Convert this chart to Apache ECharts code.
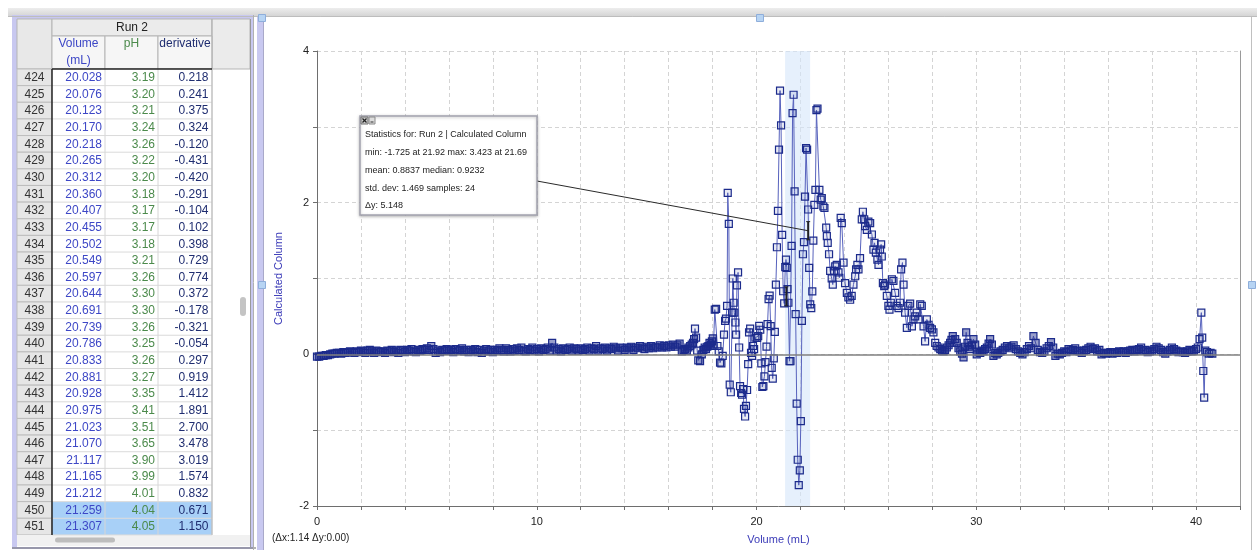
<!DOCTYPE html>
<html><head><meta charset="utf-8">
<script src="https://cdn.jsdelivr.net/npm/echarts@6/dist/echarts.min.js"></script>
<style>html,body{margin:0;padding:0;background:#fff;}#c{width:1257px;height:550px;}</style>
</head><body><div id="c"></div>
<script>
// ---------- table data (Run 2) ----------
const tableRows = [424,425,426,427,428,429,430,431,432,433,434,435,436,437,438,439,440,441,442,443,444,445,446,447,448,449,450,451];
const tableVolume = ['20.028','20.076','20.123','20.170','20.218','20.265','20.312','20.360','20.407','20.455','20.502','20.549','20.597','20.644','20.691','20.739','20.786','20.833','20.881','20.928','20.975','21.023','21.070','21.117','21.165','21.212','21.259','21.307'];
const tablePH = ['3.19','3.20','3.21','3.24','3.26','3.22','3.20','3.18','3.17','3.17','3.18','3.21','3.26','3.30','3.30','3.26','3.25','3.26','3.27','3.35','3.41','3.51','3.65','3.90','3.99','4.01','4.04','4.05'];
const tableDeriv = ['0.218','0.241','0.375','0.324','-0.120','-0.431','-0.420','-0.291','-0.104','0.102','0.398','0.729','0.774','0.372','-0.178','-0.321','-0.054','0.297','0.919','1.412','1.891','2.700','3.478','3.019','1.574','0.832','0.671','1.150'];
const selectedRows = [450,451];

// ---------- graph data: Volume (mL) vs Calculated Column ----------
const flatVolume = [0.0,0.1,0.2,0.3,0.4,0.5,0.6,0.7,0.8,0.9,1.0,1.1,1.2,1.3,1.4,1.5,1.6,1.7,1.8,1.9,2.0,2.1,2.2,2.3,2.4,2.5,2.6,2.7,2.8,2.9,3.0,3.1,3.2,3.3,3.4,3.5,3.6,3.7,3.8,3.9,4.0,4.1,4.2,4.3,4.4,4.5,4.6,4.7,4.8,4.9,5.0,5.1,5.2,5.3,5.4,5.5,5.6,5.7,5.8,5.9,6.0,6.1,6.2,6.3,6.4,6.5,6.6,6.7,6.8,6.9,7.0,7.1,7.2,7.3,7.4,7.5,7.6,7.7,7.8,7.9,8.0,8.1,8.2,8.3,8.4,8.5,8.6,8.7,8.8,8.9,9.0,9.1,9.2,9.3,9.4,9.5,9.6,9.7,9.8,9.9,10.0,10.1,10.2,10.3,10.4,10.5,10.6,10.7,10.8,10.9,11.0,11.1,11.2,11.3,11.4,11.5,11.6,11.7,11.8,11.9,12.0,12.1,12.2,12.3,12.4,12.5,12.6,12.7,12.8,12.9,13.0,13.1,13.2,13.3,13.4,13.5,13.6,13.7,13.8,13.9,14.0,14.1,14.2,14.3,14.4,14.5,14.6,14.7,14.8,14.9,15.0,15.1,15.2,15.3,15.4,15.5,15.6,15.7,15.8,15.9,16.0,16.1,16.2,16.3,16.4,16.5];
const flatCalc = [-0.03,-0.03,-0.02,-0.02,-0.01,-0.01,0.00,0.01,0.01,0.02,
0.02,0.01,0.03,0.02,0.03,0.04,0.03,0.02,0.04,0.03,
0.05,0.04,0.02,0.05,0.06,0.04,0.02,0.05,0.04,0.03,
0.04,0.02,0.05,0.04,0.06,0.03,0.05,0.02,0.06,0.05,
0.03,0.06,0.05,0.07,0.04,0.03,0.06,0.05,0.07,0.06,
0.08,0.06,0.11,0.07,0.02,0.05,0.03,0.06,0.05,0.07,
0.05,0.06,0.03,0.07,0.05,0.06,0.08,0.04,0.06,0.03,
0.06,0.05,0.07,0.03,0.06,0.02,0.05,0.07,0.04,0.06,
0.03,0.06,0.05,0.08,0.06,0.04,0.08,0.06,0.04,0.07,
0.05,0.08,0.06,0.09,0.05,0.04,0.07,0.06,0.09,0.05,
0.07,0.04,0.08,0.06,0.07,0.09,0.05,0.15,0.09,0.05,
0.07,0.04,0.08,0.06,0.07,0.09,0.05,0.08,0.07,0.05,
0.08,0.06,0.07,0.09,0.05,0.08,0.07,0.11,0.05,0.08,
0.07,0.09,0.05,0.08,0.07,0.10,0.08,0.05,0.09,0.08,
0.06,0.09,0.08,0.10,0.06,0.09,0.08,0.11,0.09,0.07,
0.10,0.08,0.11,0.08,0.10,0.09,0.12,0.09,0.11,0.09,
0.12,0.10,0.13,0.10,0.12,0.14];
const riseVolume = [16.60,16.68,16.75,16.83,16.90,16.98,17.05,17.11,17.16,17.20,17.25,17.30,17.35,17.43,17.51,17.58,17.64,17.70,17.76,17.81,17.86,17.92,17.97,18.01,18.04,18.10,18.16,18.22,18.28,18.34,18.40,18.46,18.52,18.57,18.61,18.66,18.69,18.74,18.78,18.83,18.89,18.92,18.96,18.99,19.04,19.07,19.11,19.16,19.21,19.25,19.30,19.34,19.39,19.43,19.48,19.52,19.57,19.62,19.66,19.71,19.75,19.80,19.84,19.89,19.95];
const riseCalc = [0.04,0.06,0.07,0.05,0.09,0.11,0.13,0.15,0.20,0.34,0.22,0.05,-0.08,-0.09,0.00,0.06,0.09,0.07,0.10,0.11,0.15,0.13,0.17,0.21,0.11,0.59,0.60,0.11,0.04,-0.11,-0.12,-0.02,0.26,0.44,0.47,0.64,2.13,1.72,-0.40,-0.50,0.55,1.00,0.68,0.55,0.42,0.26,0.91,1.08,0.09,-0.42,-0.51,-0.53,-0.46,-0.72,-0.82,-0.68,-0.47,-0.13,0.29,0.34,0.02,-0.02,0.11,0.07,0.22];
const peakVolume = [21.34,21.375,21.41,21.45,21.50,21.545,21.595,21.64,21.686,21.733,21.78,21.828,21.875,21.922,21.97,22.017,22.064,22.112,22.159,22.206,22.254,22.301,22.348,22.396,22.443,22.49,22.538,22.585,22.632,22.68,22.727,22.774,22.86,22.92,22.97,23.04,23.09,23.17,23.20,23.24,23.30,23.35,23.42,23.47,23.53,23.58,23.65,23.73,23.77,23.83,23.88,23.96,24.03,24.11,24.18,24.26,24.33,24.41,24.49,24.53,24.59,24.64,24.71,24.79,24.84,24.90,24.94,25.02,25.09,25.17,25.25,25.32,25.37,25.43,25.50,25.55,25.62,25.67,25.70,25.75,25.81,25.85,25.93,26.00,26.05,26.11,26.16,26.23,26.31,26.38,26.46,26.53,26.58,26.64,26.69,26.76,26.84,26.91,26.99,27.07,27.14,27.22,27.29,27.37,27.45,27.52,27.60,27.67,27.75,27.83,27.90,27.98,28.05,28.13,28.20,28.28];
const peakCalc = [1.25,1.14,0.86,0.68,-0.09,-0.09,1.43,3.18,3.423,2.15,0.53,-0.65,-1.39,-1.725,-1.53,-0.88,0.44,1.32,1.48,2.08,2.72,2.70,1.91,1.14,0.66,0.61,0.83,1.50,1.97,2.17,3.22,3.24,2.17,2.04,2.06,1.95,1.93,1.67,1.56,1.47,1.32,1.10,1.00,0.92,1.10,1.16,1.18,1.08,1.01,1.80,1.73,1.21,0.94,0.81,0.75,0.72,0.77,0.92,1.03,1.12,1.18,1.12,1.27,1.78,1.88,1.78,1.69,1.64,1.75,1.73,1.58,1.38,1.47,1.34,1.25,1.18,1.38,1.45,1.29,0.94,0.90,0.92,0.77,0.64,0.59,0.68,0.99,0.97,0.81,0.64,0.61,0.68,1.12,1.21,0.92,0.55,0.35,0.64,0.67,0.37,0.46,0.50,0.55,0.46,0.66,0.64,0.37,0.17,0.46,0.39,0.35,0.33,0.29,0.15,0.11,0.09];
const tailVolume = [28.36,28.44,28.51,28.58,28.66,28.74,28.81,28.87,28.93,29.04,29.11,29.19,29.27,29.35,29.42,29.48,29.54,29.60,29.66,29.72,29.80,29.87,29.95,30.02,30.10,30.18,30.26,30.33,30.40,30.48,30.56,30.63,30.71,30.78,30.86,30.93,
31.0,31.1,31.2,31.3,31.4,31.5,31.6,31.7,31.8,31.9,32.0,32.1,32.2,32.3,32.4,32.5,32.6,32.7,32.8,32.9,33.0,33.1,33.2,33.3,33.4,33.5,33.6,33.7,33.8,33.9,34.0,34.1,34.2,34.3,34.4,34.5,34.6,34.7,34.8,34.9,35.0,35.1,35.2,35.3,35.4,35.5,35.6,35.7,35.8,35.9,36.0,36.1,36.2,36.3,36.4,36.5,36.6,36.7,36.8,36.9,37.0,37.1,37.2,37.3,37.4,37.5,37.6,37.7,37.8,37.9,38.0,38.1,38.2,38.3,38.4,38.5,38.6,38.7,38.8,38.9,39.0,39.1,39.2,39.3,39.4,39.5,39.6,39.7,39.8,39.9,40.0,
40.08,40.16,40.24,40.28,40.33,40.37,40.42,40.50,40.58,40.66,40.74];
const tailCalc = [0.07,0.05,0.04,0.06,0.09,0.12,0.15,0.19,0.24,0.20,0.15,0.08,0.04,0.01,-0.04,0.10,0.29,0.15,0.10,0.07,0.12,0.20,0.13,0.00,0.03,0.02,0.05,0.04,0.07,0.09,0.14,0.20,0.13,-0.02,0.02,0.00,
0.02,0.04,0.06,0.09,0.11,0.08,0.10,0.12,0.07,0.04,
0.02,0.00,0.03,0.07,0.11,0.08,0.24,0.15,0.06,0.03,
0.02,0.04,0.08,0.11,0.16,0.09,-0.02,0.01,0.00,0.02,
0.04,0.03,0.07,0.05,0.06,0.08,0.05,0.04,0.02,0.05,
0.06,0.08,0.10,0.07,0.08,0.04,0.06,0.00,0.02,0.01,
0.02,0.03,0.01,0.03,0.02,0.04,0.03,0.04,0.02,0.04,
0.05,0.06,0.04,0.06,0.07,0.09,0.05,0.06,0.03,0.04,
0.05,0.07,0.10,0.08,0.06,0.03,0.01,0.04,0.06,0.09,
0.07,0.05,0.03,0.04,0.03,0.02,0.04,0.06,0.04,0.05,
0.07,
0.09,0.20,0.55,0.22,-0.22,-0.57,0.05,0.03,0.01,0.02,0.01];

// selection band and annotation anchors (data units)
const selectionRange = [21.30, 22.44];
const bracketA = {x: 22.35, y: [1.51, 1.75]};
const bracketB = {x: 21.36, y: [0.64, 0.89]};
const xTickLabels = ['0','10','20','30','40'];
const yTickLabels = ['-2','0','2','4'];
const statsLines = ['Statistics for: Run 2 | Calculated Column','min: -1.725 at 21.92 max: 3.423 at 21.69','mean: 0.8837 median: 0.9232','std. dev: 1.469 samples: 24','\u0394y: 5.148'];
const deltaText = '(\u0394x:1.14 \u0394y:0.00)';

// ---------- build ----------
const FONT = '"Liberation Sans", Arial, Helvetica, sans-serif';
const HOLLOW = {color: 'rgba(40,55,150,0.10)'};
const DENSE = {color: 'rgba(28,43,140,0.45)'};
function zip(a, b, style) { return a.map((v, i) => ({value: [v, b[i]], itemStyle: typeof style === 'function' ? style(v) : style})); }
const seriesData = [].concat(
  zip(flatVolume, flatCalc, DENSE),
  zip(riseVolume, riseCalc, v => (v < 17.2 || (v > 17.4 && v < 18.05)) ? DENSE : HOLLOW),
  zip(tableVolume.map(Number), tableDeriv.map(Number), HOLLOW),
  zip(peakVolume, peakCalc, HOLLOW),
  zip(tailVolume, tailCalc, v => v <= 40.05 ? DENSE : HOLLOW)
);

const chart = echarts.init(document.getElementById('c'), null, {renderer: 'canvas', width: 1257, height: 550});
const option = {
  animation: false,
  backgroundColor: '#ffffff',
  textStyle: {fontFamily: FONT},
  grid: {left: 317, right: 17, top: 51, bottom: 42, containLabel: false},
  xAxis: {
    type: 'value', min: 0, max: 42, interval: 2,
    name: 'Volume (mL)', nameLocation: 'middle', nameGap: 28,
    nameTextStyle: {color: '#3b3bb8', fontSize: 11, fontFamily: FONT},
    axisLine: {onZero: false, lineStyle: {color: '#6e6e6e'}},
    axisTick: {length: 4, lineStyle: {color: '#6e6e6e'}},
    axisLabel: {color: '#222', fontSize: 11, margin: 10, fontFamily: FONT,
      formatter: v => xTickLabels.includes(String(v)) ? String(v) : ''},
    splitLine: {show: true, lineStyle: {color: '#d4d4d4', type: [4, 3]}}
  },
  yAxis: [{
    type: 'value', min: -2, max: 4, interval: 1,
    name: 'Calculated Column', nameLocation: 'middle', nameGap: 33,
    nameTextStyle: {color: '#3b3bb8', fontSize: 11, fontFamily: FONT},
    axisLine: {show: true, lineStyle: {color: '#6e6e6e'}},
    axisTick: {show: true, length: 4, lineStyle: {color: '#6e6e6e'}},
    axisLabel: {color: '#222', fontSize: 11, margin: 8, fontFamily: FONT,
      formatter: v => yTickLabels.includes(String(v)) ? String(v) : ''},
    splitLine: {show: true, lineStyle: {color: '#d4d4d4', type: [4, 3]}}
  }, {
    type: 'value', position: 'right', min: -2, max: 4, interval: 1,
    axisLine: {show: true, lineStyle: {color: '#9a9a9a'}},
    axisTick: {show: false}, axisLabel: {show: false}, splitLine: {show: false}
  }],
  series: [{
    type: 'line', z: 1, data: [], silent: true,
    markArea: {silent: true, itemStyle: {color: 'rgba(214,230,250,0.6)'},
      data: [[{xAxis: selectionRange[0]}, {xAxis: selectionRange[1]}]]},
    markLine: {silent: true, symbol: 'none', label: {show: false},
      lineStyle: {color: '#808080', width: 1.5, type: 'solid'}, data: [{yAxis: 0}]}
  }, {
    type: 'line', z: 3, data: seriesData, symbol: 'rect', symbolSize: 7,
    showAllSymbol: true, silent: true,
    lineStyle: {color: '#5762bd', width: 1},
    itemStyle: {borderColor: '#1c2b8c', borderWidth: 1.2}
  }]
};
chart.setOption(option);

// ---------- graphic: window chrome, table, stats box ----------
const G = [];
function rect(x, y, w, h, fill, stroke, extra) { G.push(Object.assign({type: 'rect', shape: {x, y, width: w, height: h}, style: {fill, stroke: stroke || null, lineWidth: 1}, z: 10}, extra || {})); }
function line(x1, y1, x2, y2, stroke, lw, z) { G.push({type: 'line', shape: {x1, y1, x2, y2}, style: {stroke, lineWidth: lw || 1}, z: z || 11}); }
function text(t, x, y, fill, size, align, z) { G.push({type: 'text', x, y, style: {text: t, fill, font: size + 'px ' + FONT, textAlign: align || 'left', textVerticalAlign: 'middle', align: align || 'left', verticalAlign: 'middle'}, z: z || 12}); }

// top bar
G.push({type: 'rect', shape: {x: 8, y: 8, width: 1249, height: 9}, style: {fill: new echarts.graphic.LinearGradient(0, 0, 0, 1, [{offset: 0, color: '#ededed'}, {offset: 1, color: '#d2d2d2'}])}, z: 10});
line(8, 16.5, 1257, 16.5, '#bdbdbd', 1);

// table panel
rect(12, 15, 241, 534, '#c8c8f0');
rect(17, 19, 233, 528, '#ffffff');
const colX = [17, 52, 105, 158, 212, 250];
const rowTop = 69, rowH = 16.64;
rect(17, 19, 35, 50, '#e8e8e8', '#b5b5b5');
rect(52, 19, 160, 17, '#ebebeb', '#b5b5b5');
rect(212, 19, 38, 50, '#ebebeb', '#b5b5b5');
for (let c = 1; c <= 3; c++) rect(colX[c], 36, colX[c + 1] - colX[c], 33, '#f6f6f6', '#b5b5b5');
text('Run 2', 132, 27.5, '#222', 12, 'center');
text('Volume', 78.5, 44, '#3d47c6', 12, 'center');
text('(mL)', 78.5, 60.5, '#3d47c6', 12, 'center');
text('pH', 131.5, 44, '#4b8a4b', 12, 'center');
text('derivative', 185, 44, '#1f2d70', 12, 'center');
tableRows.forEach((r, i) => {
  const y = rowTop + i * rowH;
  rect(17, y, 35, rowH, '#e6e6e6', '#bdbdbd');
  const sel = selectedRows.includes(r);
  rect(52, y, 160, rowH, sel ? '#a8d0f7' : '#ffffff', null);
  for (let c = 1; c <= 3; c++) line(colX[c + 1], y, colX[c + 1], y + rowH, '#d6d6d6', 1, 11);
  line(52, y + rowH, 212, y + rowH, '#dadada', 1, 11);
  const cy = y + rowH / 2 + 0.5;
  text(String(r), 34.5, cy, '#333', 12, 'center');
  text(tableVolume[i], 102, cy, '#3d47c6', 12, 'right');
  text(tablePH[i], 155, cy, '#4b8a4b', 12, 'right');
  text(tableDeriv[i], 208.5, cy, '#1f2d70', 12, 'right');
});
const tableBottom = rowTop + tableRows.length * rowH;
line(52, rowTop, 212, rowTop, '#222', 1.5, 13);
line(52, rowTop, 52, tableBottom, '#222', 1.5, 13);
line(212, 19, 212, tableBottom, '#b5b5b5', 1, 11);
line(250.5, 19, 250.5, 547, '#9a9a9a', 1, 11);
rect(240, 297, 6, 19, '#c4c4c4', null, {shape: {x: 240, y: 297, width: 6, height: 19, r: 3}});
rect(17, tableBottom, 233, 11, '#f1f1f1', null);
rect(55, tableBottom + 2.5, 60, 5, '#bdbdbd', null, {shape: {x: 55, y: tableBottom + 2.5, width: 60, height: 5, r: 2.5}});
line(12, 548, 256, 548, '#666', 1, 11);
line(253.5, 15, 253.5, 550, '#b0b0b0', 1, 11);

// graph panel chrome
rect(257, 17, 6, 533, '#c9c9f0');
line(263.5, 17, 263.5, 550, '#a9a9c9', 1, 11);
line(1251.5, 17, 1251.5, 550, '#c0c0c0', 1, 11);
[[262, 18], [760, 18], [262, 285], [1252, 285]].forEach(p => rect(p[0] - 3.5, p[1] - 3.5, 7, 7, '#b7d4f3', '#8eaedb', {z: 14}));

// delta readout
text(deltaText, 272, 538, '#222', 10, 'left');

// stats box
G.push({type: 'rect', shape: {x: 360, y: 116, width: 177, height: 99}, style: {fill: '#ffffff', stroke: '#a2a2ae', lineWidth: 1.5, shadowBlur: 3, shadowColor: 'rgba(0,0,0,0.25)', shadowOffsetY: 1}, z: 20});
rect(361, 117, 7, 7, '#cfcfcf', '#6f6f6f', {z: 21});
line(362.5, 118.5, 366.5, 122.5, '#222', 1.2, 22);
line(366.5, 118.5, 362.5, 122.5, '#222', 1.2, 22);
rect(369, 117, 6, 7, '#dcdcdc', '#8a8a8a', {z: 21});
line(370.5, 122, 373.5, 122, '#333', 1, 22);
const statY = [135, 152.5, 170.5, 188.5, 206];
statsLines.forEach((s, i) => text(s, 365, statY[i], '#222', 9, 'left', 22));

// connector + brackets (anchored to data coordinates)
const pA0 = chart.convertToPixel({xAxisIndex: 0, yAxisIndex: 0}, [bracketA.x, bracketA.y[0]]);
const pA1 = chart.convertToPixel({xAxisIndex: 0, yAxisIndex: 0}, [bracketA.x, bracketA.y[1]]);
const pB0 = chart.convertToPixel({xAxisIndex: 0, yAxisIndex: 0}, [bracketB.x, bracketB.y[0]]);
const pB1 = chart.convertToPixel({xAxisIndex: 0, yAxisIndex: 0}, [bracketB.x, bracketB.y[1]]);
line(537, 181, pA0[0], (pA0[1] + pA1[1]) / 2, '#2a2a2a', 1, 19);
[[pA0, pA1], [pB0, pB1]].forEach(([a, b]) => {
  line(a[0], a[1], b[0], b[1], '#222', 2, 19);
  line(a[0] - 2, a[1], a[0] + 2, a[1], '#222', 1, 19);
  line(b[0] - 2, b[1], b[0] + 2, b[1], '#222', 1, 19);
});

chart.setOption({graphic: {elements: G}});
</script>
</body></html>
